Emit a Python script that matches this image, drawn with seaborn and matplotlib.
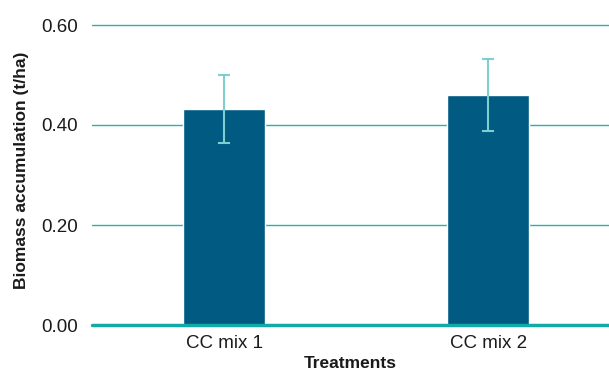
import matplotlib

matplotlib.use("Agg")
import matplotlib.pyplot as plt
import seaborn as sns
import pandas as pd

# values
treatments = ["CC mix 1", "CC mix 2"]
biomass = [0.432, 0.460]
biomass_err = [0.068, 0.072]

BAR = "#005a82"
ERR = "#7fcfd0"
GRID = "#2bb0ac"
BASE = "#12a9a6"
TEXT = "#1a1a1a"

sns.set_theme(style="white")
plt.rcParams["font.family"] = ["Liberation Sans", "DejaVu Sans"]

df = pd.DataFrame({"Treatments": treatments, "Biomass": biomass})

fig = plt.figure(figsize=(6.09, 3.74), dpi=100)
ax = fig.add_axes([92 / 609, 49 / 374, 1 - 92 / 609, (325 - 15) / 374])

sns.barplot(data=df, x="Treatments", y="Biomass", ax=ax, color=BAR,
            width=0.31, saturation=1, errorbar=None, zorder=3)
ax.errorbar(range(len(treatments)), biomass, yerr=biomass_err, fmt="none",
            ecolor=ERR, elinewidth=1.5, capsize=4, capthick=1.5, zorder=4)

ax.set_ylim(0, 0.62)
ax.set_xlim(-0.5, 1.458)
ax.set_yticks([0, 0.2, 0.4, 0.6])
ax.set_yticklabels(["0.00", "0.20", "0.40", "0.60"])
ax.yaxis.grid(True, color=GRID, linewidth=1.0, zorder=0)
ax.axhline(0, color=BASE, linewidth=2.5, zorder=5, clip_on=False)

for spine in ax.spines.values():
    spine.set_visible(False)
ax.tick_params(axis="both", length=0, labelsize=13.5, colors=TEXT)
ax.tick_params(axis="y", pad=10)
ax.tick_params(axis="x", pad=7)

ax.set_xlabel("Treatments", fontsize=12.5, fontweight="bold", color=TEXT, labelpad=3)
ax.set_ylabel("Biomass accumulation (t/ha)", fontsize=12.5, fontweight="bold",
              color=TEXT, labelpad=9)

fig.savefig("out.png", dpi=100, facecolor="white")
